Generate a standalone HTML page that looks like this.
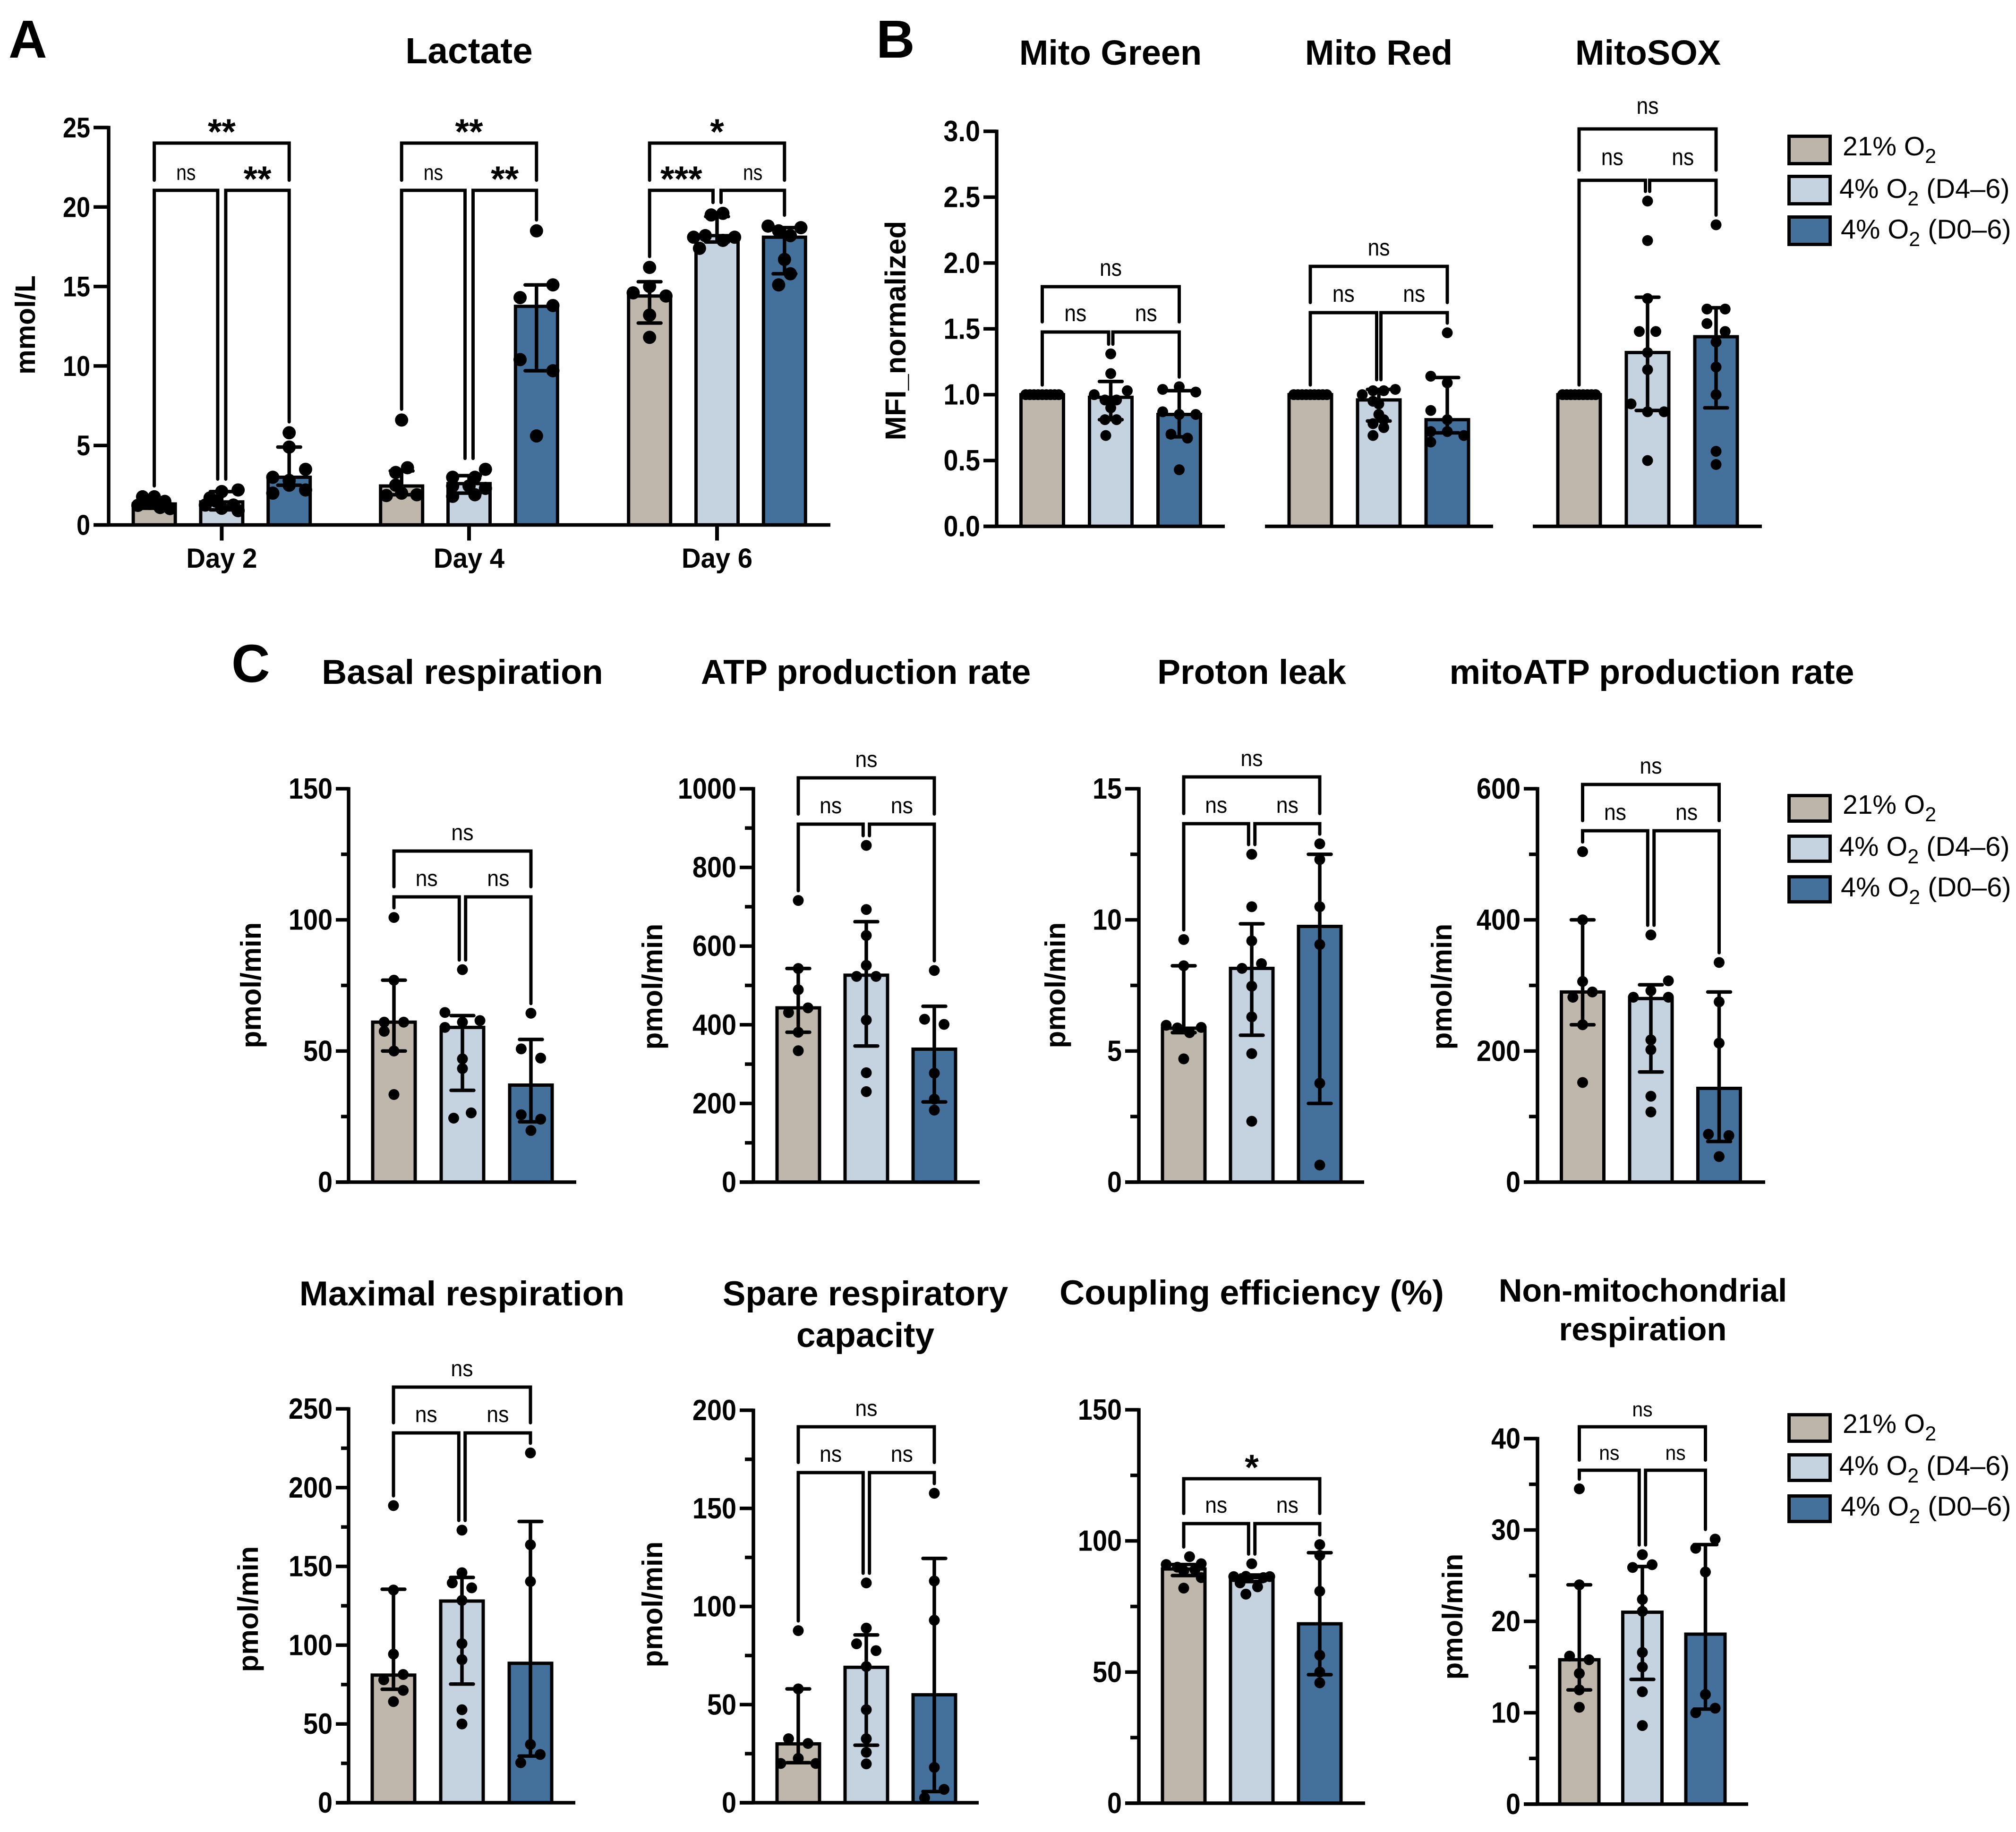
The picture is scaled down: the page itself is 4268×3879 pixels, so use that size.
<!DOCTYPE html>
<html lang="en">
<head>
<meta charset="utf-8">
<title>Lactate and mitochondrial measurements</title>
<style>
html,body{margin:0;padding:0;background:#fff;}
svg{display:block;font-family:"Liberation Sans",Arial,sans-serif;}
.title{font-weight:bold;text-anchor:middle;fill:#000;}
.panel{font-weight:bold;font-size:113px;fill:#000;}
.ytitle{font-weight:bold;font-size:60px;text-anchor:middle;fill:#000;}
.leg{font-size:57.7px;fill:#000;}
.leg tspan.sub{font-size:43px;}
.swatch{stroke:#000;stroke-width:7;}
</style>
</head>
<body>
<svg id="figure" xmlns="http://www.w3.org/2000/svg" width="4268" height="3879" viewBox="0 0 4268 3879">
<rect x="0" y="0" width="4268" height="3879" fill="#fff"/>

<text class="panel" x="18" y="122">A</text>
<text class="panel" x="1855" y="122">B</text>
<text class="panel" x="490" y="1444">C</text>

<text class="title" x="993" y="134" font-size="77">Lactate</text>
<text class="title" x="2351" y="137" font-size="74">Mito Green</text>
<text class="title" x="2919" y="137" font-size="74">Mito Red</text>
<text class="title" x="3489" y="137" font-size="74">MitoSOX</text>
<text class="title" x="979" y="1448" font-size="73.4">Basal respiration</text>
<text class="title" x="1833" y="1448" font-size="73.4">ATP production rate</text>
<text class="title" x="2650" y="1448" font-size="73.4">Proton leak</text>
<text class="title" x="3497" y="1448" font-size="73.7">mitoATP production rate</text>
<text class="title" x="978" y="2764" font-size="73.3">Maximal respiration</text>
<text class="title" font-size="73"><tspan x="1832" y="2764">Spare respiratory</tspan><tspan x="1832" y="2852">capacity</tspan></text>
<text class="title" x="2650" y="2762" font-size="73.6">Coupling efficiency (%)</text>
<text class="title" font-size="68.7"><tspan x="3478" y="2756">Non-mitochondrial</tspan><tspan x="3478" y="2838">respiration</tspan></text>

<text class="ytitle" transform="translate(74,688) rotate(-90)" style="font-size:59px">mmol/L</text>
<text class="ytitle" transform="translate(1917,700) rotate(-90)" style="font-size:61.5px">MFI_normalized</text>
<text class="ytitle" transform="translate(552,2086) rotate(-90)">pmol/min</text>
<text class="ytitle" transform="translate(1402,2089) rotate(-90)">pmol/min</text>
<text class="ytitle" transform="translate(2255,2086) rotate(-90)">pmol/min</text>
<text class="ytitle" transform="translate(3073,2089) rotate(-90)">pmol/min</text>
<text class="ytitle" transform="translate(546,3407) rotate(-90)">pmol/min</text>
<text class="ytitle" transform="translate(1402,3397) rotate(-90)">pmol/min</text>
<text class="ytitle" transform="translate(3096,3423) rotate(-90)">pmol/min</text>

<g>
<rect class="swatch" x="3787.5" y="288.5" width="87" height="58" fill="#bdb5aa"/>
<text class="leg" x="3901" y="329" style="font-size:57px">21% O<tspan class="sub" dy="16">2</tspan></text>
<rect class="swatch" x="3787.5" y="373.5" width="87" height="58" fill="#c5d3e0"/>
<text class="leg" x="3894" y="419">4% O<tspan class="sub" dy="16">2</tspan><tspan dy="-16"> (D4–6)</tspan></text>
<rect class="swatch" x="3787.5" y="459.5" width="87" height="58" fill="#44719c"/>
<text class="leg" x="3897" y="505">4% O<tspan class="sub" dy="16">2</tspan><tspan dy="-16"> (D0–6)</tspan></text>
</g>
<g>
<rect class="swatch" x="3787.5" y="1684.5" width="87" height="54" fill="#bdb5aa"/>
<text class="leg" x="3901" y="1723" style="font-size:57px">21% O<tspan class="sub" dy="16">2</tspan></text>
<rect class="swatch" x="3787.5" y="1770.5" width="87" height="53" fill="#c5d3e0"/>
<text class="leg" x="3894" y="1812">4% O<tspan class="sub" dy="16">2</tspan><tspan dy="-16"> (D4–6)</tspan></text>
<rect class="swatch" x="3787.5" y="1856.5" width="87" height="53" fill="#44719c"/>
<text class="leg" x="3897" y="1898">4% O<tspan class="sub" dy="16">2</tspan><tspan dy="-16"> (D0–6)</tspan></text>
</g>
<g>
<rect class="swatch" x="3787.5" y="2995.5" width="87" height="56" fill="#bdb5aa"/>
<text class="leg" x="3901" y="3034" style="font-size:57px">21% O<tspan class="sub" dy="16">2</tspan></text>
<rect class="swatch" x="3787.5" y="3080.5" width="87" height="54" fill="#c5d3e0"/>
<text class="leg" x="3894" y="3123">4% O<tspan class="sub" dy="16">2</tspan><tspan dy="-16"> (D4–6)</tspan></text>
<rect class="swatch" x="3787.5" y="3167.5" width="87" height="54" fill="#44719c"/>
<text class="leg" x="3897" y="3209">4% O<tspan class="sub" dy="16">2</tspan><tspan dy="-16"> (D0–6)</tspan></text>
</g>
</svg>

<script>
// ---------- Lactate ----------
const lactateCategories = ['Day 2', 'Day 4', 'Day 6'];
const lactateTicks = [0, 5, 10, 15, 20, 25];
const lactateMeans = [1.32, 1.45, 3.0, 2.45, 2.6, 13.75, 14.4, 18.2, 18.1];
const lactateHigh = [1.7, 2.1, 4.9, 3.4, 3.1, 15.1, 15.3, 19.4, 18.7];
const lactateLow = [1.05, 0.95, 2.5, 1.9, 2.0, 9.7, 12.7, 17.8, 15.8];
const lactatePoints = [
  [1.77, 1.77, 1.23, 1.35, 1.48, 1.1, 1.03],
  [2.1, 1.7, 1.5, 2.2, 1.05, 1.25, 1.25, 0.9],
  [5.8, 4.9, 3.5, 3.0, 2.0, 2.8, 2.2, 2.5],
  [6.6, 3.6, 3.3, 2.5, 1.85, 2.0, 1.9],
  [3.5, 3.0, 3.0, 2.45, 2.3, 2.45, 1.8, 1.9],
  [18.5, 15.1, 14.3, 13.8, 10.4, 9.7, 5.6],
  [16.2, 14.6, 14.4, 15.0, 13.2, 11.8],
  [19.5, 19.6, 18.2, 18.1, 17.4, 17.9, 18.1],
  [18.8, 18.7, 18.5, 18.2, 16.7, 15.8, 15.1]
];
const lactateJitter = [
  [-1, 0, -1.4, -0.4, 0.9, 0.5, 1.35],
  [0, -1, -0.5, 1.4, 0, -1.4, 1, 1.4],
  [0, 0, 1.4, -1.4, -1.4, 0, 1.4, 0],
  [0, 0.5, -0.5, -0.5, -1.3, 0, 1.3],
  [1.4, 0.5, -1.4, -1.4, 1.4, 0, -1.4, 0.5],
  [0, 1.4, -1.4, 1.4, -1.4, 1.4, 0],
  [0, -1.4, 1.4, 0, 0, 0],
  [-0.5, 0.5, -1, -2, -1.5, 0.5, 1.5],
  [-1.4, 1.4, -0.5, 0.5, 0, 0.5, -0.5]
];
const lactateSignificance = [['ns', '**', '**'], ['ns', '**', '**'], ['***', 'ns', '*']];

// ---------- Panel B ----------
const mfiTicks = [0, 0.5, 1, 1.5, 2, 2.5, 3];
const unityPoints = [1, 1, 1, 1, 1, 1, 1, 1, 1];
const unityJitter = [-1, -0.75, -0.5, -0.25, 0, 0.25, 0.5, 0.75, 1];

const greenMeans = [1.0, 0.98, 0.85];
const greenHigh = [1.0, 1.1, 1.03];
const greenLow = [1.0, 0.81, 0.68];
const greenPoints = [unityPoints, [1.31, 1.16, 1.03, 1.0, 0.96, 0.96, 0.9, 0.81, 0.81, 0.69], [1.06, 1.04, 1.02, 0.87, 0.85, 0.85, 0.7, 0.67, 0.43]];
const greenJitter = [unityJitter, [0, 0, 1, -1, -0.35, 0.35, 0, -0.35, 0.35, -0.3], [0, -1, 1, -1, 0, 1, -0.5, 0.5, 0]];

const redMeans = [1.0, 0.96, 0.81];
const redHigh = [1.0, 1.04, 1.13];
const redLow = [1.0, 0.8, 0.71];
const redPoints = [unityPoints, [1.04, 1.03, 1.03, 1.0, 0.95, 0.93, 0.85, 0.81, 0.78, 0.75, 0.69], [1.47, 1.14, 1.09, 0.88, 0.81, 0.72, 0.72, 0.69, 0.64]];
const redJitter = [unityJitter, [1, 0.3, -0.35, -1, -0.35, 0, 0, 0.3, -0.35, 0.3, -0.35], [0, -1, 0, -1, 0, 0, -1, 1, -1]];

const soxMeans = [1.0, 1.32, 1.44];
const soxHigh = [1.0, 1.74, 1.66];
const soxLow = [1.0, 0.88, 0.9];
const soxPoints = [unityPoints, [2.47, 2.17, 1.73, 1.48, 1.48, 1.32, 1.19, 0.93, 0.87, 0.87, 0.5], [2.29, 1.65, 1.65, 1.54, 1.48, 1.4, 1.21, 1.0, 0.57, 0.47]];
const soxJitter = [unityJitter, [0, 0, 0, -0.5, 0.5, 0, 0, -1, 1, 0, 0], [0, -0.55, 0.55, -0.55, 0.55, 0, 0, 0, 0, 0]];

// ---------- Panel C, row 1 ----------
const basalTicks = [0, 50, 100, 150];
const basalMinor = [25, 75, 125];
const basalMeans = [61, 59, 37];
const basalHigh = [77, 63.5, 54.4];
const basalLow = [50, 35, 23];
const basalPoints = [[100.9, 77, 61, 61, 57.5, 50, 33.4], [81, 64.7, 61, 61.6, 59, 47, 43.3, 26.4, 24.4], [64.4, 50.8, 47.3, 25.7, 24, 19.7]];
const basalJitter = [[0, 0, -1, 1, -1, 0, 0], [0, -1.8, 0, 1.8, -1.8, 0, 0, 0.9, -0.9], [0, -1, 1, -1, 1, 0]];

const atpTicks = [0, 200, 400, 600, 800, 1000];
const atpMinor = [100, 300, 500, 700, 900];
const atpMeans = [443, 526, 338];
const atpHigh = [543, 662, 447];
const atpLow = [381, 346, 204];
const atpPoints = [[716, 543, 489, 431, 443, 381, 334], [856, 693, 627, 551, 523, 523, 412, 278, 230], [538, 414, 401, 277, 211, 183]];
const atpJitter = [[0, 0, 0, -1, 1, 0, 0], [0, 0, 0, 0, -1, 1, 0, 0, 0], [0, -1, 1, 0, 0, 0]];

const protonTicks = [0, 5, 10, 15];
const protonMinor = [2.5, 7.5, 12.5];
const protonMeans = [5.87, 8.15, 9.75];
const protonHigh = [8.25, 9.85, 12.5];
const protonLow = [5.7, 5.6, 3.0];
const protonPoints = [[9.25, 8.25, 5.98, 5.88, 5.9, 5.7, 4.7], [12.5, 10.5, 9.2, 8.15, 8.33, 7.47, 6.3, 4.9, 2.32], [12.9, 12.3, 10.5, 9.06, 3.77, 0.65]];
const protonJitter = [[0, 0, -1.8, -0.65, 1.8, 0.6, 0], [0, 0, 0, -1, 1, 0, 0, 0, 0], [0, 0, 0, 0, 0, 0]];

const mitoAtpTicks = [0, 200, 400, 600];
const mitoAtpMinor = [100, 300, 500];
const mitoAtpMeans = [290, 280, 143];
const mitoAtpHigh = [400, 301, 290];
const mitoAtpLow = [240, 168, 62];
const mitoAtpPoints = [[504, 400, 306, 290, 282, 240, 152], [377, 307, 292, 282, 282, 217, 202, 131, 107], [335, 275, 212, 73, 71, 39]];
const mitoAtpJitter = [[0, 0, 0, 1, -1, 0, 0], [0, 1.8, 0, -1.8, 1.8, 0, 0, 0, 0], [0, 0, 0, -1.1, 1, 0]];

// ---------- Panel C, row 2 ----------
const maximalTicks = [0, 50, 100, 150, 200, 250];
const maximalMinor = [25, 75, 125, 175, 225];
const maximalMeans = [81, 128, 88.5];
const maximalHigh = [135.5, 143, 178.5];
const maximalLow = [72, 75.3, 29.6];
const maximalPoints = [[188.6, 135, 94.3, 78, 81.4, 71.3, 64.2], [173, 146, 139.5, 136.4, 128.4, 101, 90.8, 59, 50], [222, 163.7, 140.4, 37, 30.6, 25.4]];
const maximalJitter = [[0, 0, 0, -1, 1, 1, 0], [0, 0, -1, 1, 0, 0, 0, 0, 0], [0, 0, 0, 0, 1, -1]];

const spareTicks = [0, 50, 100, 150, 200];
const spareMinor = [25, 75, 125, 175];
const spareMeans = [30, 69, 55];
const spareHigh = [58, 85.5, 124.5];
const spareLow = [20.4, 29.3, 5.7];
const sparePoints = [[87.7, 58, 32.6, 30.2, 22.6, 20, 20], [112, 89, 81, 77.5, 69.4, 47.4, 32.6, 25.7, 19.8], [157.7, 113, 93, 18, 6.8, 2.5]];
const spareJitter = [[0, 0, -1, 1, 0, -1.8, 1.8], [0, 0, -1, 1, 0, 0, 0, 0, 0], [0, 0, 0, 0, 1, -1]];

const couplingTicks = [0, 50, 100, 150];
const couplingMinor = [25, 75, 125];
const couplingMeans = [89.3, 86, 68.4];
const couplingHigh = [91, 87, 95.5];
const couplingLow = [86.8, 84.5, 49];
const couplingPoints = [[94, 91, 91.3, 90, 88.6, 89, 86, 82], [91.3, 86.4, 86.5, 86.4, 86, 84, 82.5, 79.7], [98.6, 94.5, 80.8, 56.4, 50, 45.9]];
const couplingJitter = [[0.6, -1.8, 1.8, -0.65, 0, 1.15, 1.8, 0], [0, -1.85, -0.6, 1.85, 1.2, -1.2, 0.6, -0.6], [0, 0, 0, 0, 0, 0]];

const nonMitoTicks = [0, 10, 20, 30, 40];
const nonMitoMinor = [5, 15, 25, 35];
const nonMitoMeans = [15.8, 21, 18.6];
const nonMitoHigh = [24, 26, 28.4];
const nonMitoLow = [12.5, 13.65, 10.4];
const nonMitoPoints = [[34.5, 24, 16.2, 15.8, 14.3, 12.5, 10.6], [27.3, 25.9, 26.2, 22.4, 21.1, 16.6, 15, 12.3, 8.6], [29, 28, 25.4, 12, 10.5, 10]];
const nonMitoJitter = [[0, 0, -1, 1, 0, 0, 0], [0, -1, 1, 0, 0, 0, 0, 0, 0], [1, -1, 0, 0, 1, -1]];

const nsSignificance = [['ns', 'ns', 'ns']];
const couplingSignificance = [['ns', 'ns', '*']];

const barFills = ['#bfb6ac', '#c5d3e0', '#44719c'];

// Layout of each plot (geometry only; values come from the arrays above)
const charts = [
  {id: 'lactate', axisX: 230, top: 270, base: 1111.5, left: 198, right: 1758, ymax: 25, ticks: lactateTicks, minor: [], decimals: 0, tickFont: 60, tickScale: 0.87,
   groups: [469.4, 993, 1518], step: 142.8, barW: 96, r: 14, unit: 24.8, gap: 8.5, nsSize: 46, nsScale: 0.85, nsLift: 22, low: 403, high: 303, categories: lactateCategories,
   means: lactateMeans, hi: lactateHigh, lo: lactateLow, points: lactatePoints, jitter: lactateJitter, sig: lactateSignificance},
  {id: 'mito-green', axisX: 2110, top: 278, base: 1114.5, left: 2082, right: 2593, ymax: 3, ticks: mfiTicks, minor: [], decimals: 1, tickFont: 62, tickScale: 0.9,
   groups: [2351.5], step: 145, barW: 97, r: 11.5, unit: 35, gap: 4.5, nsSize: 50, nsScale: 0.89, nsLift: 23, low: 703, high: 607,
   means: greenMeans, hi: greenHigh, lo: greenLow, points: greenPoints, jitter: greenJitter, sig: nsSignificance},
  {id: 'mito-red', noYAxis: true, top: 278, base: 1114.5, left: 2678, right: 3161, ymax: 3, ticks: mfiTicks, minor: [], decimals: 1, tickFont: 62, tickScale: 0.9,
   groups: [2919], step: 145, barW: 97, r: 11.5, unit: 35, gap: 4.5, nsSize: 50, nsScale: 0.89, nsLift: 23, low: 662, high: 564,
   means: redMeans, hi: redHigh, lo: redLow, points: redPoints, jitter: redJitter, sig: nsSignificance},
  {id: 'mitosox', noYAxis: true, top: 278, base: 1114.5, left: 3245, right: 3730, ymax: 3, ticks: mfiTicks, minor: [], decimals: 1, tickFont: 62, tickScale: 0.9,
   groups: [3488], step: 145, barW: 97, r: 11.5, unit: 35, gap: 4.5, nsSize: 50, nsScale: 0.89, nsLift: 32, low: 381.7, high: 273,
   means: soxMeans, hi: soxHigh, lo: soxLow, points: soxPoints, jitter: soxJitter, sig: nsSignificance},
  {id: 'basal', axisX: 738, top: 1670, base: 2503, left: 711, right: 1220, ymax: 150, ticks: basalTicks, minor: basalMinor, decimals: 0, tickFont: 62, tickScale: 0.9,
   groups: [979], step: 145, barW: 97, r: 11.5, unit: 20.6, gap: 6.7, nsSize: 48, nsScale: 0.93, nsLift: 23, low: 1899, high: 1802,
   means: basalMeans, hi: basalHigh, lo: basalLow, points: basalPoints, jitter: basalJitter, sig: nsSignificance},
  {id: 'atp', axisX: 1595, top: 1670, base: 2503, left: 1566, right: 2074, ymax: 1000, ticks: atpTicks, minor: atpMinor, decimals: 0, tickFont: 62, tickScale: 0.9,
   groups: [1834], step: 144, barW: 97, r: 11.5, unit: 20.6, gap: 6.7, nsSize: 48, nsScale: 0.93, nsLift: 23, low: 1745, high: 1647,
   means: atpMeans, hi: atpHigh, lo: atpLow, points: atpPoints, jitter: atpJitter, sig: nsSignificance},
  {id: 'proton', axisX: 2411, top: 1670, base: 2503, left: 2382, right: 2888, ymax: 15, ticks: protonTicks, minor: protonMinor, decimals: 0, tickFont: 62, tickScale: 0.9,
   groups: [2650], step: 144, barW: 97, r: 11.5, unit: 20.6, gap: 6.7, nsSize: 48, nsScale: 0.93, nsLift: 23, low: 1744, high: 1645,
   means: protonMeans, hi: protonHigh, lo: protonLow, points: protonPoints, jitter: protonJitter, sig: nsSignificance},
  {id: 'mitoatp', axisX: 3255, top: 1670, base: 2503, left: 3226, right: 3737, ymax: 600, ticks: mitoAtpTicks, minor: mitoAtpMinor, decimals: 0, tickFont: 62, tickScale: 0.9,
   groups: [3495], step: 144.5, barW: 97, r: 11.5, unit: 20.6, gap: 6.7, nsSize: 48, nsScale: 0.93, nsLift: 23, low: 1759, high: 1661,
   means: mitoAtpMeans, hi: mitoAtpHigh, lo: mitoAtpLow, points: mitoAtpPoints, jitter: mitoAtpJitter, sig: nsSignificance},
  {id: 'maximal', axisX: 738, top: 2983, base: 3817, left: 711, right: 1218, ymax: 250, ticks: maximalTicks, minor: maximalMinor, decimals: 0, tickFont: 62, tickScale: 0.9,
   groups: [978], step: 145, barW: 97, r: 11.5, unit: 20.6, gap: 6.7, nsSize: 48, nsScale: 0.93, nsLift: 23, low: 3034, high: 2937,
   means: maximalMeans, hi: maximalHigh, lo: maximalLow, points: maximalPoints, jitter: maximalJitter, sig: nsSignificance},
  {id: 'spare', axisX: 1595, top: 2986, base: 3817, left: 1566, right: 2072, ymax: 200, ticks: spareTicks, minor: spareMinor, decimals: 0, tickFont: 62, tickScale: 0.9,
   groups: [1834], step: 144, barW: 97, r: 11.5, unit: 20.6, gap: 6.7, nsSize: 48, nsScale: 0.93, nsLift: 23, low: 3118, high: 3021,
   means: spareMeans, hi: spareHigh, lo: spareLow, points: sparePoints, jitter: spareJitter, sig: nsSignificance},
  {id: 'coupling', axisX: 2411, top: 2985, base: 3818, left: 2382, right: 2890, ymax: 150, ticks: couplingTicks, minor: couplingMinor, decimals: 0, tickFont: 62, tickScale: 0.9,
   groups: [2650], step: 144, barW: 97, r: 11.5, unit: 20.6, gap: 6.7, nsSize: 48, nsScale: 0.93, nsLift: 23, low: 3226, high: 3131,
   means: couplingMeans, hi: couplingHigh, lo: couplingLow, points: couplingPoints, jitter: couplingJitter, sig: couplingSignificance},
  {id: 'non-mito', axisX: 3255, top: 3046, base: 3820, left: 3226, right: 3701, ymax: 40, ticks: nonMitoTicks, minor: nonMitoMinor, decimals: 0, tickFont: 62, tickScale: 0.9,
   groups: [3477], step: 133.5, barW: 90, r: 11.5, unit: 20.6, gap: 6.7, nsSize: 44, nsScale: 0.93, nsLift: 22, low: 3113, high: 3021,
   means: nonMitoMeans, hi: nonMitoHigh, lo: nonMitoLow, points: nonMitoPoints, jitter: nonMitoJitter, sig: nsSignificance}
];

const figure = document.getElementById('figure');
const NS = 'http://www.w3.org/2000/svg';

function make(tag, attrs, parent) {
  const node = document.createElementNS(NS, tag);
  Object.keys(attrs).forEach(function (k) { node.setAttribute(k, attrs[k]); });
  parent.appendChild(node);
  return node;
}

function segment(parent, x1, y1, x2, y2, width, cap) {
  return make('line', {x1: x1, y1: y1, x2: x2, y2: y2, stroke: '#000', 'stroke-width': width, 'stroke-linecap': cap || 'butt'}, parent);
}

function drawSigLabel(parent, text, x, bracketY, c) {
  const isStar = text.indexOf('*') >= 0;
  const labelY = isStar ? bracketY + 2 : bracketY - c.nsLift;
  const labelScale = isStar ? 1 : c.nsScale;
  const label = make('text', {
    transform: 'translate(' + x + ',' + labelY + ') scale(' + labelScale + ',1)',
    'text-anchor': 'middle',
    'font-size': isStar ? 76 : c.nsSize,
    'font-weight': isStar ? 'bold' : 'normal',
    fill: '#000'
  }, parent);
  label.textContent = text;
  
  
}

function drawChart(c) {
  const plot = make('g', {}, figure);
  
  
  const yOf = function (v) { return c.base - (v / c.ymax) * (c.base - c.top); };
  const barX = function (g, i) { return c.groups[g] + (i - 1) * c.step; };
  const strokeW = 7;

  c.groups.forEach(function (groupCenter, g) {
    for (let i = 0; i < 3; i++) {
      const idx = g * 3 + i;
      const cx = barX(g, i);
      const mean = c.means[idx];
      const bar = make('rect', {
        x: cx - (c.barW - strokeW) / 2,
        y: yOf(mean),
        width: c.barW - strokeW,
        height: Math.max(0, c.base - yOf(mean)),
        fill: barFills[i],
        stroke: '#000',
        'stroke-width': strokeW
      }, plot);
      
      

      const stem = segment(plot, cx, yOf(c.hi[idx]), cx, yOf(c.lo[idx]), 7.5);
      
      
      const capHigh = segment(plot, cx - 24, yOf(c.hi[idx]), cx + 24, yOf(c.hi[idx]), 7.5, 'round');
      
      
      const capLow = segment(plot, cx - 24, yOf(c.lo[idx]), cx + 24, yOf(c.lo[idx]), 7.5, 'round');
      
      

      c.points[idx].forEach(function (v, k) {
        const dot = make('circle', {cx: cx + c.jitter[idx][k] * c.unit, cy: yOf(v), r: c.r, fill: '#000'}, plot);
        
        
      });
    }

    // significance brackets
    const x1 = barX(g, 0), x2 = barX(g, 1), x3 = barX(g, 2);
    const legEnd = function (i) {
      const top = Math.max.apply(null, c.points[g * 3 + i]);
      return Math.max(c.low + 12, yOf(top) - c.r - 9);
    };
    const labels = c.sig[g];
    const leftBracket = make('path', {
      d: 'M' + x1 + ' ' + legEnd(0) + 'V' + c.low + 'H' + (x2 - c.gap) + 'V' + legEnd(1),
      fill: 'none', stroke: '#000', 'stroke-width': 7, 'stroke-linecap': 'round', 'stroke-linejoin': 'miter'
    }, plot);
    
    
    const rightBracket = make('path', {
      d: 'M' + (x2 + c.gap) + ' ' + legEnd(1) + 'V' + c.low + 'H' + x3 + 'V' + legEnd(2),
      fill: 'none', stroke: '#000', 'stroke-width': 7, 'stroke-linecap': 'round', 'stroke-linejoin': 'miter'
    }, plot);
    
    
    const topBracket = make('path', {
      d: 'M' + x1 + ' ' + (c.low - 21.5) + 'V' + c.high + 'H' + x3 + 'V' + (c.low - 21.5),
      fill: 'none', stroke: '#000', 'stroke-width': 7, 'stroke-linecap': 'round', 'stroke-linejoin': 'miter'
    }, plot);
    
    
    drawSigLabel(plot, labels[0], (x1 + x2 - c.gap) / 2, c.low, c);
    drawSigLabel(plot, labels[1], (x2 + c.gap + x3) / 2, c.low, c);
    drawSigLabel(plot, labels[2], x2, c.high, c);

    if (c.categories) {
      const xTick = segment(plot, groupCenter, c.base, groupCenter, c.base + 33, 8);
      
      
      const xLabel = make('text', {transform: 'translate(' + groupCenter + ',1202) scale(0.97,1)', 'text-anchor': 'middle', 'font-size': 58, 'font-weight': 'bold', fill: '#000'}, plot);
      xLabel.textContent = c.categories[g];
      
      
    }
  });

  // axes
  const xAxis = segment(plot, c.left, c.base, c.right, c.base, 7.5);
  
  
  if (!c.noYAxis) {
    const yAxis = segment(plot, c.axisX, c.top - 3.5, c.axisX, c.base, 7.5);
    
    
    c.ticks.forEach(function (t) {
      const tick = segment(plot, c.left, yOf(t), c.axisX, yOf(t), 7.5);
      
      
      const label = make('text', {
        transform: 'translate(' + (c.left - 7) + ',' + (yOf(t) + 21) + ') scale(' + c.tickScale + ',1)',
        'text-anchor': 'end', 'font-size': c.tickFont, 'font-weight': 'bold', fill: '#000'
      }, plot);
      label.textContent = t.toFixed(c.decimals);
      
      
    });
    c.minor.forEach(function (t) {
      const minorTick = segment(plot, c.left + 11, yOf(t), c.axisX, yOf(t), 7.5);
      
      
    });
  }
}

charts.forEach(drawChart);
</script>
</body>
</html>
